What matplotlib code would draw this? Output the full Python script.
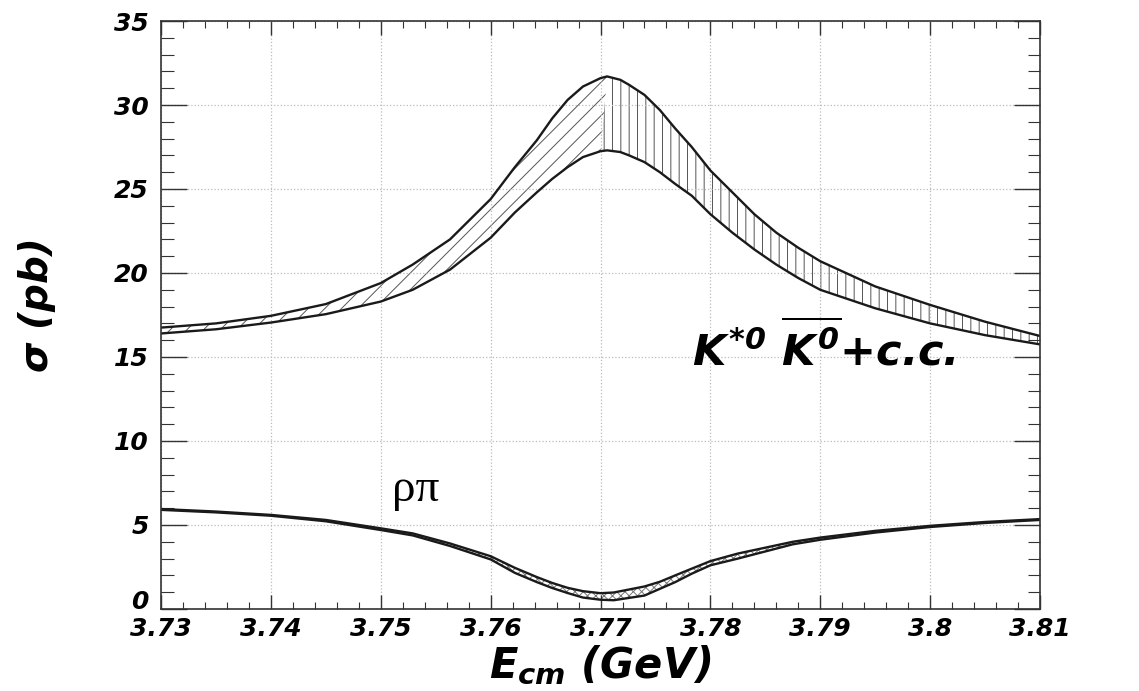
import matplotlib.pyplot as plt
import numpy as np
from matplotlib.ticker import MultipleLocator

# energies (GeV)
e_k = [3.730, 3.735, 3.740, 3.745, 3.750, 3.7529, 3.7563, 3.760, 3.7622, 3.7642,
       3.7656, 3.767, 3.7684, 3.770, 3.7706, 3.7718, 3.7726, 3.774, 3.7754,
       3.7768, 3.7783, 3.780, 3.782, 3.784, 3.786, 3.788, 3.790, 3.795,
       3.800, 3.805, 3.810]
# K*0 K0bar + c.c. band, upper and lower edge (pb)
k_hi = [16.75, 17.0, 17.45, 18.15, 19.4, 20.5, 22.0, 24.4, 26.3, 27.9,
        29.2, 30.3, 31.1, 31.6, 31.7, 31.5, 31.2, 30.6, 29.7,
        28.6, 27.5, 26.1, 24.8, 23.5, 22.4, 21.5, 20.7, 19.2,
        18.1, 17.1, 16.25]
k_lo = [16.4, 16.65, 17.05, 17.55, 18.3, 19.0, 20.2, 22.1, 23.6, 24.8,
        25.6, 26.3, 26.9, 27.25, 27.3, 27.2, 27.0, 26.6, 26.0,
        25.3, 24.6, 23.5, 22.4, 21.4, 20.5, 19.7, 19.0, 17.9,
        17.0, 16.3, 15.75]

e_r = [3.730, 3.735, 3.740, 3.745, 3.750, 3.7529, 3.7563, 3.760, 3.7622, 3.7642,
       3.7656, 3.767, 3.7684, 3.770, 3.7712, 3.774, 3.7754, 3.7768, 3.7783,
       3.780, 3.7825, 3.7875, 3.790, 3.795, 3.800, 3.805, 3.810]
# rho pi band (pb)
r_hi = [5.95, 5.8, 5.6, 5.3, 4.8, 4.5, 3.9, 3.14, 2.45, 1.9,
        1.55, 1.26, 1.06, 0.94, 0.98, 1.34, 1.62, 2.0, 2.4,
        2.85, 3.3, 4.0, 4.25, 4.65, 4.95, 5.18, 5.35]
r_lo = [5.9, 5.75, 5.55, 5.22, 4.7, 4.38, 3.75, 2.95, 2.15, 1.6,
        1.25, 0.95, 0.68, 0.55, 0.52, 0.8, 1.2, 1.6, 2.1,
        2.6, 3.0, 3.85, 4.12, 4.55, 4.88, 5.12, 5.3]

x_ticks = [3.73, 3.74, 3.75, 3.76, 3.77, 3.78, 3.79, 3.80, 3.81]
x_labels = ['3.73', '3.74', '3.75', '3.76', '3.77', '3.78', '3.79', '3.8', '3.81']
y_ticks = [0, 5, 10, 15, 20, 25, 30, 35]

plt.rcParams['font.family'] = 'DejaVu Sans'
plt.rcParams['font.weight'] = 'bold'
plt.rcParams['font.style'] = 'italic'
plt.rcParams['mathtext.fontset'] = 'custom'
plt.rcParams['mathtext.rm'] = 'DejaVu Sans:bold:italic'
plt.rcParams['mathtext.it'] = 'DejaVu Sans:bold:italic'
plt.rcParams['mathtext.bf'] = 'DejaVu Sans:bold:italic'
plt.rcParams['hatch.linewidth'] = 0.7

fig = plt.figure(figsize=(11.39, 6.91), dpi=100)
ax = fig.add_axes([0.1414, 0.1187, 0.7717, 0.8509])

ek = np.array(e_k)
peak = 3.7706
ax.fill_between(e_k, k_lo, k_hi, where=ek <= peak, facecolor='white',
                edgecolor='#555555', hatch='//', linewidth=0, interpolate=True)
ax.fill_between(e_k, k_lo, k_hi, where=ek >= peak, facecolor='white',
                edgecolor='#555555', hatch='||', linewidth=0, interpolate=True)
ax.plot(e_k, k_hi, color='#1a1a1a', lw=1.7)
ax.plot(e_k, k_lo, color='#1a1a1a', lw=1.7)

ax.fill_between(e_r, r_lo, r_hi, facecolor='white', edgecolor='#777777',
                hatch='xxxx', linewidth=0)
ax.plot(e_r, r_hi, color='#1a1a1a', lw=1.7)
ax.plot(e_r, r_lo, color='#1a1a1a', lw=1.7)

ax.set_xlim(3.73, 3.81)
ax.set_ylim(0, 35)
ax.xaxis.set_minor_locator(MultipleLocator(0.002))
ax.yaxis.set_minor_locator(MultipleLocator(1))

ax.tick_params(axis='both', which='both', direction='in', top=True, right=True,
               labelsize=18, color='#333333')
ax.tick_params(axis='y', which='major', length=19, width=1, pad=9)
ax.tick_params(axis='y', which='minor', length=9, width=0.8)
ax.tick_params(axis='x', which='major', length=10, width=1, pad=6)
ax.tick_params(axis='x', which='minor', length=5, width=0.8)

ax.set_xticks(x_ticks)
ax.set_xticklabels(x_labels)
ax.set_yticks(y_ticks)
ylabs = ax.set_yticklabels([str(v) for v in y_ticks])
# "0" sits on the corner, just above "3.73"
ylabs[0].set_verticalalignment('baseline')

ax.grid(True, which='major', linestyle=':', color='#bbbbbb', linewidth=0.9)
for s in ax.spines.values():
    s.set_linewidth(1.2)
    s.set_color('#333333')

ax.set_xlabel(r'$E_{cm}$ (GeV)', fontsize=30, fontweight='bold', labelpad=2)
ax.set_ylabel(r'$\sigma$ (pb)', fontsize=28, fontweight='bold')
ax.yaxis.set_label_coords(-0.117, 0.515)

ax.text(3.7783, 14.5, r'$K^{*0}\ \overline{K^0}$+c.c.', fontsize=31,
        ha='left', va='baseline')
ax.text(3.7510, 7.1, 'ρπ', fontsize=34, ha='left', va='center',
        family='Liberation Serif', fontstyle='normal', fontweight='normal')

fig.savefig('out.png', dpi=100)
